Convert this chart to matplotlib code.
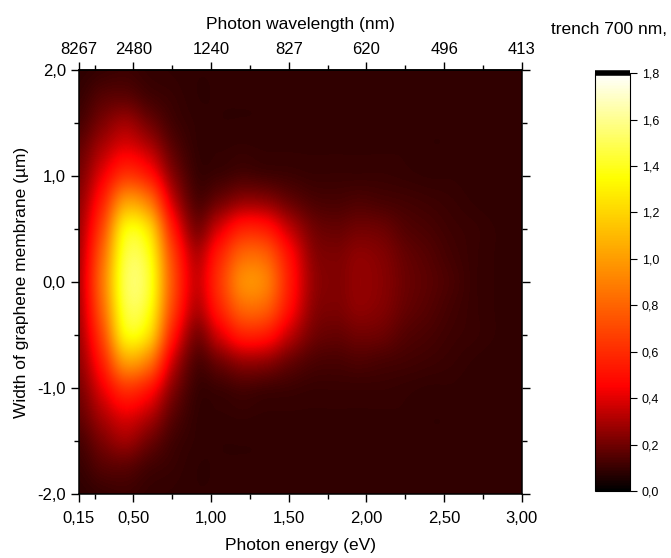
import numpy as np
import matplotlib
matplotlib.use("Agg")
import matplotlib.pyplot as plt
from matplotlib.colors import LinearSegmentedColormap, Normalize

plt.rcParams["font.family"] = ["Liberation Sans", "DejaVu Sans"]

# photon energy samples (eV) and membrane width samples (um, upper half; map is symmetric in y)
energy = [0.15, 0.30, 0.45, 0.60, 0.75, 0.90, 1.05, 1.20, 1.35, 1.50,
          1.65, 1.80, 1.95, 2.10, 2.25, 2.40, 2.55, 2.70, 2.85, 3.00]
width_half = [0.00, 0.25, 0.50, 0.75, 1.00, 1.25, 1.50, 1.75, 2.00]

# intensity, one row per width value
intensity_half = [
    [0.32, 0.86, 1.48, 1.42, 0.75, 0.37, 0.62, 0.93, 0.90, 0.55, 0.28, 0.23, 0.26, 0.24, 0.19, 0.16, 0.13, 0.10, 0.09, 0.085],
    [0.31, 0.81, 1.44, 1.37, 0.70, 0.33, 0.55, 0.80, 0.78, 0.50, 0.26, 0.22, 0.25, 0.23, 0.18, 0.15, 0.12, 0.10, 0.09, 0.085],
    [0.29, 0.70, 1.32, 1.22, 0.56, 0.23, 0.38, 0.55, 0.53, 0.35, 0.21, 0.18, 0.20, 0.19, 0.15, 0.13, 0.11, 0.10, 0.09, 0.085],
    [0.26, 0.56, 1.00, 0.88, 0.38, 0.15, 0.20, 0.27, 0.26, 0.19, 0.14, 0.13, 0.14, 0.13, 0.12, 0.11, 0.10, 0.09, 0.085, 0.085],
    [0.22, 0.42, 0.63, 0.53, 0.25, 0.11, 0.11, 0.13, 0.12, 0.11, 0.10, 0.10, 0.10, 0.10, 0.095, 0.09, 0.09, 0.085, 0.085, 0.085],
    [0.18, 0.31, 0.41, 0.33, 0.17, 0.095, 0.09, 0.095, 0.09, 0.09, 0.09, 0.09, 0.09, 0.09, 0.09, 0.085, 0.085, 0.085, 0.085, 0.085],
    [0.13, 0.22, 0.28, 0.20, 0.12, 0.09, 0.085, 0.085, 0.085, 0.085, 0.085, 0.085, 0.085, 0.085, 0.085, 0.085, 0.085, 0.085, 0.085, 0.085],
    [0.10, 0.15, 0.16, 0.12, 0.10, 0.085, 0.085, 0.085, 0.085, 0.085, 0.085, 0.085, 0.085, 0.085, 0.085, 0.085, 0.085, 0.085, 0.085, 0.085],
    [0.085, 0.10, 0.11, 0.095, 0.09, 0.085, 0.085, 0.085, 0.085, 0.085, 0.085, 0.085, 0.085, 0.085, 0.085, 0.085, 0.085, 0.085, 0.085, 0.085],
]

energy_ticks = [0.15, 0.50, 1.00, 1.50, 2.00, 2.50, 3.00]
wavelength_labels = ["8267", "2480", "1240", "827", "620", "496", "413"]
width_ticks = [-2.0, -1.0, 0.0, 1.0, 2.0]
cbar_ticks = [0.0, 0.2, 0.4, 0.6, 0.8, 1.0, 1.2, 1.4, 1.6, 1.8]


def comma(v, nd):
    return f"{v:.{nd}f}".replace(".", ",")


half = np.array(intensity_half)
field = np.vstack([half[:0:-1], half])  # rows from -2 to +2
dx = energy[1] - energy[0]
dy = width_half[1] - width_half[0]

cmap = LinearSegmentedColormap.from_list(
    "redyellow",
    [(0.0, "#000000"), (0.25, "#ff0000"), (0.5, "#ff8000"), (0.75, "#ffff00"), (1.0, "#ffffff")],
)

fig = plt.figure(figsize=(6.71, 5.58), dpi=100)
ax = fig.add_axes([0.1177, 0.1147, 0.660, 0.760])
im = ax.imshow(field, origin="lower", cmap=cmap, norm=Normalize(0, 1.8),
               interpolation="catrom", aspect="auto",
               extent=[energy[0] - dx / 2, energy[-1] + dx / 2,
                       -width_half[-1] - dy / 2, width_half[-1] + dy / 2])
ax.set_xlim(energy[0], energy[-1])
ax.set_ylim(-2, 2)

ax.set_xticks(energy_ticks)
ax.set_xticklabels([comma(v, 2) for v in energy_ticks])
ax.set_xticks(np.arange(0.25, 3.0, 0.5), minor=True)
ax.set_yticks(width_ticks)
ax.set_yticklabels([comma(v, 1) for v in width_ticks])
ax.set_yticks([-1.5, -0.5, 0.5, 1.5], minor=True)
ax.tick_params(which="both", direction="out", right=True, width=1.0, labelsize=12)
ax.tick_params(which="major", length=6)
ax.tick_params(which="minor", length=3.5)
ax.tick_params(axis="x", which="major", pad=6)
for s in ax.spines.values():
    s.set_linewidth(1.1)
ax.set_xlabel("Photon energy (eV)", fontsize=12.5, labelpad=9)
ax.set_ylabel("Width of graphene membrane (\u00b5m)", fontsize=12.5, labelpad=6)

top = ax.secondary_xaxis("top")
top.set_xticks(energy_ticks)
top.set_xticklabels(wavelength_labels)
top.set_xticks(np.arange(0.25, 3.0, 0.5), minor=True)
top.tick_params(which="both", direction="out", width=1.0, labelsize=12)
top.tick_params(which="major", length=6)
top.tick_params(which="minor", length=3.5)
top.spines["top"].set_linewidth(1.1)
top.set_xlabel("Photon wavelength (nm)", fontsize=12.5, labelpad=9)

cax = fig.add_axes([0.887, 0.120, 0.052, 0.749])
cb = fig.colorbar(im, cax=cax, ticks=cbar_ticks)
cb.ax.set_yticklabels([comma(v, 1) for v in cbar_ticks])
cb.ax.tick_params(direction="out", length=5, width=0.8, labelsize=9)
cb.outline.set_linewidth(0.8)
cb.ax.axhline(1.8, color="black", lw=4, clip_on=False, solid_capstyle="butt")

fig.text(0.908, 0.948, "trench 700 nm,", fontsize=12.5, ha="center", va="center")

fig.savefig("out.png", dpi=100)
